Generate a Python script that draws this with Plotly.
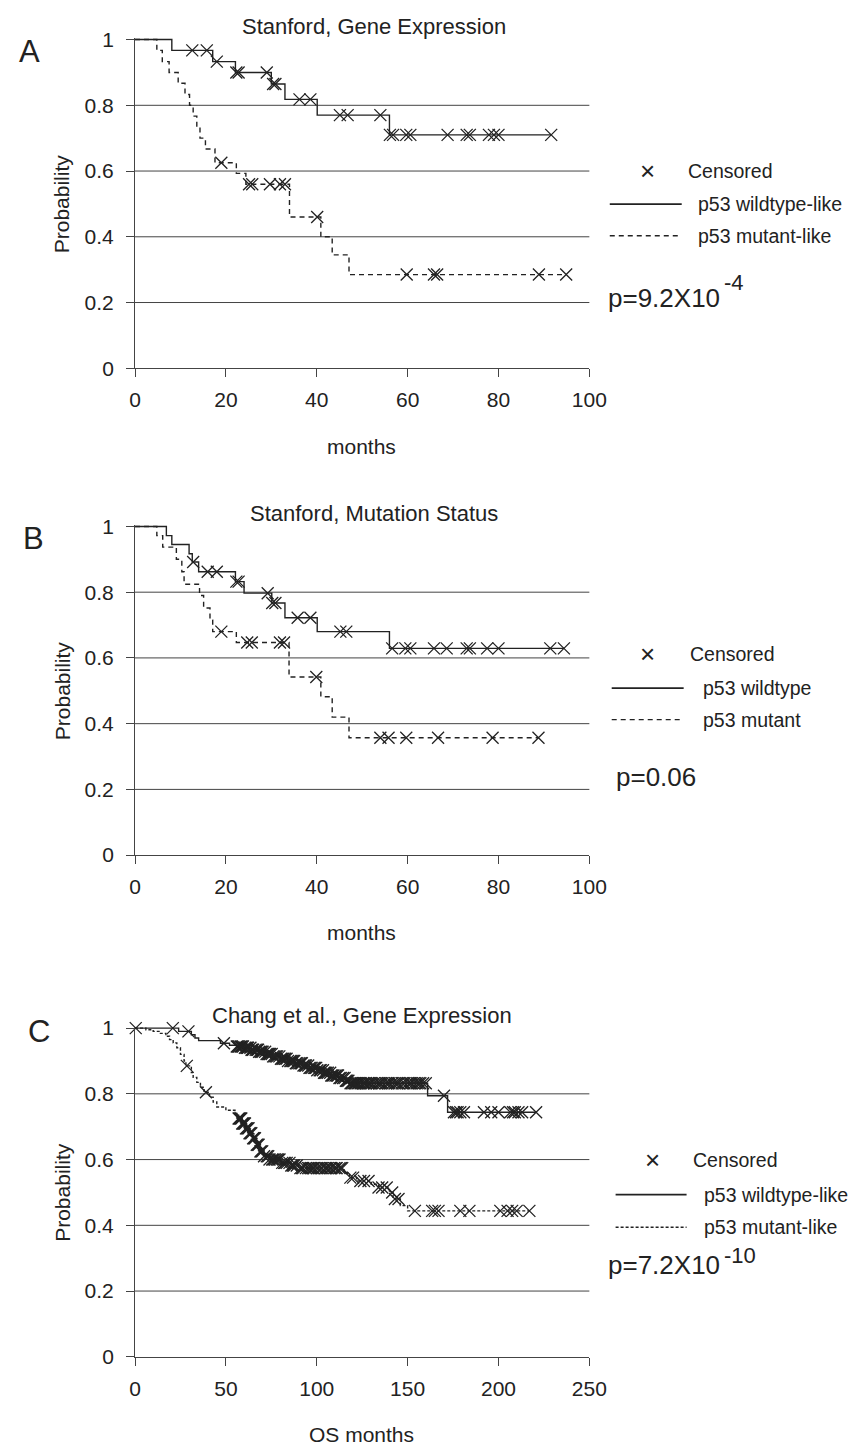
import numpy as np
import plotly.graph_objects as go

W, H = 865, 1456
FONT = "Liberation Sans, Arial, sans-serif"
INK = "#222222"
AX = "#444444"

# ---------------- Panel A : Stanford, Gene Expression ----------------
A_wt_t = [0, 8.1, 17.1, 22.1, 30.0, 33.0, 40.1, 56.0]
A_wt_s = [1.0, 0.967, 0.933, 0.900, 0.865, 0.818, 0.770, 0.710]
A_wt_cens = [12.6, 15.8, 18.0, 22.3, 22.8, 29.0, 30.4, 30.9, 36.2, 38.6, 45.1, 46.8,
             54.0, 56.1, 56.8, 59.7, 60.6, 68.8, 73.0, 73.7, 77.9, 79.0, 80.0, 91.6]
A_mt_t = [0, 4.8, 6.0, 7.5, 9.5, 11.0, 12.0, 12.8, 13.6, 14.3, 15.5, 17.6, 22.3, 24.4,
          34.0, 40.9, 43.4, 47.1]
A_mt_s = [1.0, 0.967, 0.933, 0.90, 0.867, 0.833, 0.80, 0.767, 0.733, 0.70, 0.667, 0.625,
          0.593, 0.56, 0.46, 0.40, 0.345, 0.285]
A_mt_cens = [19.0, 25.1, 25.8, 29.7, 31.9, 33.0, 40.1, 59.8, 65.8, 66.5, 88.9, 94.9]

# ---------------- Panel B : Stanford, Mutation Status ----------------
B_wt_t = [0, 6.9, 8.1, 11.9, 12.6, 14.0, 22.1, 24.0, 30.1, 33.0, 40.1, 56.0]
B_wt_s = [1.0, 0.972, 0.945, 0.917, 0.892, 0.862, 0.832, 0.797, 0.767, 0.722, 0.68, 0.629]
B_wt_cens = [12.8, 16.0, 18.0, 22.3, 22.8, 29.2, 30.2, 30.9, 35.8, 38.6, 45.2, 46.5,
             56.6, 59.5, 60.6, 65.8, 68.6, 73.0, 73.7, 77.5, 80.0, 91.4, 94.4]
B_mt_t = [0, 4.8, 6.1, 9.1, 10.3, 10.8, 14.2, 15.1, 16.5, 17.1, 22.3, 33.9, 40.9, 43.4, 47.1]
B_mt_s = [1.0, 0.972, 0.937, 0.90, 0.862, 0.824, 0.79, 0.752, 0.715, 0.68, 0.647, 0.542,
          0.482, 0.42, 0.357]
B_mt_cens = [19.0, 24.7, 25.7, 31.9, 32.8, 39.9, 54.0, 55.8, 59.7, 66.7, 78.7, 88.8]

# ---------------- Panel C : Chang et al., Gene Expression ----------------
C_wt_t = [0, 24, 31, 33, 35, 47, 52, 56, 60, 64, 68, 72, 76, 80, 84, 88, 92, 96, 100,
          104, 108, 112, 116, 118, 161, 172]
C_wt_s = [1.0, 0.99, 0.98, 0.97, 0.962, 0.954, 0.948, 0.944, 0.94, 0.934, 0.928, 0.921,
          0.914, 0.907, 0.90, 0.893, 0.886, 0.879, 0.872, 0.864, 0.856, 0.848, 0.84, 0.832,
          0.794, 0.744]
C_wt_cens = [0.4, 20.8, 29.4, 48.9,
             56.0, 56.6, 57.2, 58.1, 58.7, 59.4, 60.5, 61.3, 61.8, 62.2, 63.5, 64.1, 64.6,
             65.0, 66.4, 67.2, 67.7, 68.3, 69.1, 69.6, 70.2, 71.6, 72.4, 73.1, 73.6, 74.3,
             75.2, 76.0, 76.7, 77.5, 78.2, 79.4, 80.3, 81.1, 81.7, 82.6, 83.4, 84.2, 85.5,
             86.1, 86.8, 87.6, 88.5, 89.3, 90.4, 91.2, 91.8, 92.7, 93.5, 94.1, 95.3, 96.0,
             96.6, 97.2, 98.4, 99.1, 99.7, 100.3, 101.6, 102.2, 103.4, 104.0, 104.6, 105.3,
             106.1, 107.4, 108.0, 108.6, 109.2, 110.3, 111.1, 111.7, 112.5, 113.2, 114.4,
             115.3, 116.0, 116.6, 117.4,
             118.6, 119.3, 120.2, 121.0, 121.5, 122.4, 123.0, 124.1, 125.5, 126.2, 127.0,
             128.2, 129.1, 130.0, 131.5, 133.0, 134.2, 135.0, 136.2, 138.0, 139.1, 140.0,
             141.5, 143.0, 144.1, 145.0, 147.0, 148.2, 150.0, 151.2, 152.0, 153.5, 155.0,
             156.1, 157.0, 158.5, 160.0,
             170.0, 175.5, 176.6, 177.5, 179.0, 181.0, 192.0, 196.0, 200.0, 206.5, 208.0,
             209.0, 211.0, 213.0, 220.7]
C_mt_t = [0, 6, 10, 14, 17, 19, 21, 23, 25, 27, 28, 31, 32, 34, 36, 38, 41, 43, 45, 50,
          55, 57, 59, 61, 63, 65, 67, 69, 71, 74, 80, 86, 90, 115, 118, 122, 130, 134, 140,
          142, 146, 150]
C_mt_s = [1.0, 0.995, 0.99, 0.984, 0.975, 0.965, 0.955, 0.94, 0.92, 0.90, 0.885, 0.865,
          0.85, 0.835, 0.82, 0.805, 0.79, 0.775, 0.76, 0.75, 0.74, 0.725, 0.71, 0.695, 0.68,
          0.665, 0.645, 0.625, 0.61, 0.60, 0.59, 0.582, 0.574, 0.56, 0.545, 0.535, 0.525,
          0.515, 0.50, 0.48, 0.46, 0.444]
C_mt_cens = [28.5, 39.0,
             57.0, 57.5, 58.0, 58.5, 59.0, 59.5, 60.0, 60.5, 61.0, 61.5, 62.0, 62.5, 63.0,
             63.5, 64.0, 65.0, 65.5, 66.0, 67.0, 67.5, 68.0, 69.0, 69.5, 70.0, 71.0, 72.5,
             73.3, 74.0, 75.5, 76.2, 77.0, 78.0, 78.8, 79.5, 81.0, 82.0, 82.7, 83.5, 85.0,
             86.0, 86.8, 87.5, 89.0, 91.0, 91.8, 92.5, 94.0, 95.2, 96.0, 97.0, 97.8, 98.5,
             100.0, 101.0, 102.2, 103.0, 104.5, 105.3, 106.0, 107.2, 108.0, 109.5, 110.4,
             111.0, 112.5, 113.3, 114.0,
             118.5, 120.0, 124.0, 126.0, 128.5, 134.0, 136.0, 138.5, 141.5, 143.0, 145.0,
             154.0, 163.5, 165.0, 167.0, 179.0, 184.0, 201.0, 205.0, 207.5, 210.0, 217.0]

panels = [
    dict(key="", title="Stanford, Gene Expression", letter="A", xmax=100, xdtick=20,
         xtitle="months", wt=(A_wt_t, A_wt_s, A_wt_cens), mt=(A_mt_t, A_mt_s, A_mt_cens),
         leg=("p53 wildtype-like", "p53 mutant-like"), p=("p=9.2X10", "-4"),
         top=30, dash="5px,4px"),
    dict(key="2", title="Stanford, Mutation Status", letter="B", xmax=100, xdtick=20,
         xtitle="months", wt=(B_wt_t, B_wt_s, B_wt_cens), mt=(B_mt_t, B_mt_s, B_mt_cens),
         leg=("p53 wildtype", "p53 mutant"), p=("p=0.06", ""),
         top=524, dash="5px,4px"),
    dict(key="3", title="Chang et al., Gene Expression", letter="C", xmax=250, xdtick=50,
         xtitle="OS months", wt=(C_wt_t, C_wt_s, C_wt_cens), mt=(C_mt_t, C_mt_s, C_mt_cens),
         leg=("p53 wildtype-like", "p53 mutant-like"), p=("p=7.2X10", "-10"),
         top=1033, dash="3px,2px"),
]

y_ticks = [0, 0.2, 0.4, 0.6, 0.8, 1]
y_ticktext = ["0", "0.2", "0.4", "0.6", "0.8", "1"]
grid_vals = [0.2, 0.4, 0.6, 0.8]

PLOT_L, PLOT_R, PLOT_H = 132.7, 600.0, 333.5
px = lambda x: x / W
py = lambda y: 1 - y / H

legend_geo = {
    "A": dict(xx=660, cy=163, ctx=700, ly1=197, ly2=229, lx0=621, lx1=695, tx=711,
              pxl=618, pyc=292, sx=737, sy=276),
    "B": dict(xx=660, cy=653, ctx=703, ly1=688, ly2=720, lx0=623, lx1=697, tx=716,
              pxl=626, pyc=778, sx=0, sy=0),
    "C": dict(xx=665, cy=1167, ctx=706, ly1=1202, ly2=1235, lx0=627, lx1=700, tx=717,
              pxl=618, pyc=1273, sx=737, sy=1264),
}
letter_pos = {"A": (24.5, 42.5), "B": (28.5, 536), "C": (34, 1036.5)}
title_x = {"A": 378, "B": 378, "C": 366}

fig = go.Figure()
shapes, annotations = [], []
layout_axes = {}


def step_lookup(t, s, c):
    t = np.asarray(t, float)
    s = np.asarray(s, float)
    idx = np.searchsorted(t, np.asarray(c, float), side="right") - 1
    return s[idx]


def ann(text, x, y, size, xanchor="center", **kw):
    d = dict(text=text, x=px(x), y=py(y), xref="paper", yref="paper", showarrow=False,
             xanchor=xanchor, yanchor="middle", borderpad=0,
             font=dict(family=FONT, size=size, color=INK))
    d.update(kw)
    return d


for p in panels:
    k = p["key"]
    xa, ya = "x" + k, "y" + k
    top = p["top"]
    bot = top + PLOT_H
    for (t, s, c), dash in ((p["wt"], "solid"), (p["mt"], p["dash"])):
        end = max(c[-1], t[-1])
        fig.add_trace(go.Scatter(
            x=list(t) + [end], y=list(s) + [s[-1]], mode="lines", line_shape="hv",
            line=dict(color=INK, width=1.4, dash=dash), xaxis=xa, yaxis=ya,
            showlegend=False, hoverinfo="skip"))
        fig.add_trace(go.Scatter(
            x=c, y=step_lookup(t, s, c), mode="markers",
            marker=dict(symbol="x-thin", size=12, line=dict(width=1.3, color=INK)),
            xaxis=xa, yaxis=ya, showlegend=False, cliponaxis=False))

    layout_axes["xaxis" + k] = dict(
        domain=[px(PLOT_L), px(PLOT_R)], anchor=ya, range=[0, p["xmax"]],
        tickvals=list(range(0, p["xmax"] + 1, p["xdtick"])),
        ticks="outside", ticklen=8, tickcolor=AX, tickwidth=1,
        showline=True, linecolor=AX, linewidth=1, showgrid=False, zeroline=False,
        tickfont=dict(family=FONT, size=21, color=INK), ticklabelstandoff=5)
    layout_axes["yaxis" + k] = dict(
        domain=[py(bot), py(top - 0.005 * PLOT_H)], anchor=xa, range=[0, 1.005],
        tickvals=y_ticks, ticktext=y_ticktext,
        ticks="outside", ticklen=8, tickcolor=AX, tickwidth=1,
        showline=True, linecolor=AX, linewidth=1, showgrid=False, zeroline=False,
        tickfont=dict(family=FONT, size=21, color=INK), ticklabelstandoff=8)

    for g in grid_vals:
        shapes.append(dict(type="line", xref=xa + " domain", yref=ya, x0=0, x1=1, y0=g, y1=g,
                           line=dict(color=AX, width=1), layer="below"))

    L = p["letter"]
    annotations.append(ann(p["title"], title_x[L], top - 13, 22))
    lx, ly = letter_pos[L]
    annotations.append(ann(L, lx, ly, 31))
    annotations.append(ann("Probability", 58, top + PLOT_H / 2, 21, textangle=-90))
    annotations.append(ann(p["xtitle"], 366, bot + 79, 21))

    g = legend_geo[L]
    annotations.append(ann("×", g["xx"], g["cy"], 26))
    annotations.append(ann("Censored", g["ctx"], g["cy"], 19.5, xanchor="left"))
    shapes.append(dict(type="line", xref="paper", yref="paper", x0=px(g["lx0"]), x1=px(g["lx1"]),
                       y0=py(g["ly1"]), y1=py(g["ly1"]), line=dict(color=INK, width=1.6)))
    shapes.append(dict(type="line", xref="paper", yref="paper", x0=px(g["lx0"]), x1=px(g["lx1"]),
                       y0=py(g["ly2"]), y1=py(g["ly2"]),
                       line=dict(color=INK, width=1.4, dash=p["dash"])))
    annotations.append(ann(p["leg"][0], g["tx"], g["ly1"], 19.5, xanchor="left"))
    annotations.append(ann(p["leg"][1], g["tx"], g["ly2"], 19.5, xanchor="left"))
    annotations.append(ann(p["p"][0], g["pxl"], g["pyc"], 26, xanchor="left"))
    if p["p"][1]:
        annotations.append(ann(p["p"][1], g["sx"], g["sy"], 22, xanchor="left"))

fig.update_layout(
    width=W, height=H, margin=dict(l=0, r=0, t=0, b=0),
    paper_bgcolor="white", plot_bgcolor="white", showlegend=False,
    shapes=shapes, annotations=annotations, **layout_axes)

fig.write_html("out.html")
